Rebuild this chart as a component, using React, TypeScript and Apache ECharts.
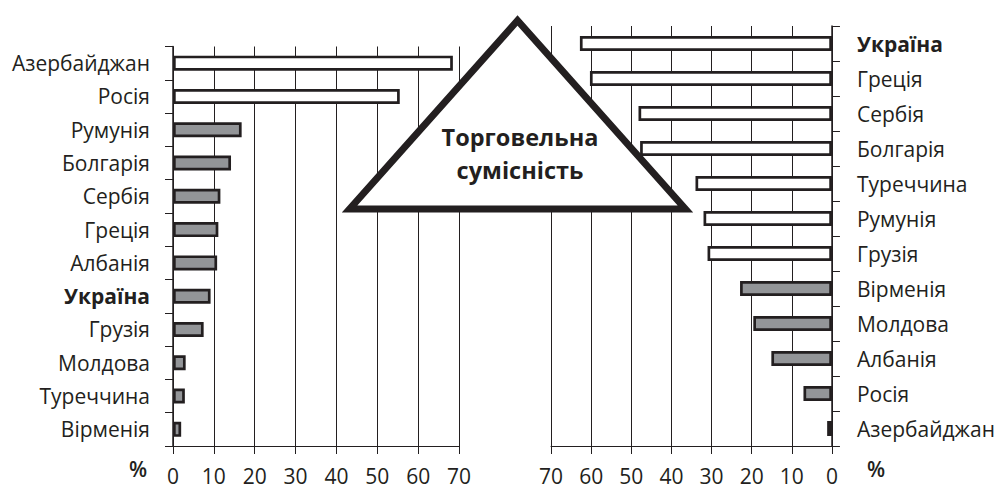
import React, { useEffect, useRef } from "react";
import * as echarts from "echarts";

const leftCountries = ["Азербайджан", "Росія", "Румунія", "Болгарія", "Сербія", "Греція", "Албанія", "Україна", "Грузія", "Молдова", "Туреччина", "Вірменія"];
const leftValues = [68.5, 55.5, 16.8, 14.2, 11.6, 11.1, 10.8, 9.2, 7.5, 3.1, 2.9, 2.0];
const leftHigh = [true, true, false, false, false, false, false, false, false, false, false, false];

const rightCountries = ["Україна", "Греція", "Сербія", "Болгарія", "Туреччина", "Румунія", "Грузія", "Вірменія", "Молдова", "Албанія", "Росія", "Азербайджан"];
const rightValues = [62.8, 60.3, 48.2, 47.8, 34.0, 32.0, 31.0, 22.9, 19.6, 15.1, 7.1, 1.2];
const rightHigh = [true, true, true, true, true, true, true, false, false, false, false, false];

const xTicks = { min: 0, max: 70, interval: 10 };
const highlightCountry = "Україна";
const titleLines = ["Торговельна", "сумісність"];
const unitLabel = "%";

const INK = "#231f20";
const GREY = "#939598";
const FONT = "'Open Sans', 'Noto Sans', sans-serif";

export default function App() {
  const ref = useRef<HTMLDivElement>(null);
  useEffect(() => {
    if (!ref.current) return;
    const chart = echarts.init(ref.current, null, { renderer: "svg" });
    const labelFmt = (v: string) => (v === highlightCountry ? `{b|${v}}` : v);
    const rich = { b: { fontWeight: "bold", fontSize: 21, fontFamily: FONT, color: INK } };
    const xAxisCommon = {
      type: "value",
      min: xTicks.min,
      max: xTicks.max,
      interval: xTicks.interval,
      axisLine: { show: true, lineStyle: { color: INK, width: 1 } },
      axisTick: { show: true, length: 8, lineStyle: { color: INK, width: 1 } },
      splitLine: { show: true, lineStyle: { color: INK, width: 1 } },
      axisLabel: { fontSize: 21, fontFamily: FONT, color: INK, margin: 19 },
    };
    const yAxisCommon = {
      type: "category",
      inverse: true,
      axisLine: { show: true, lineStyle: { color: INK, width: 1.5 } },
      axisTick: { show: true, length: 8, lineStyle: { color: INK, width: 1 } },
      splitLine: { show: false },
      axisLabel: { fontSize: 21, fontFamily: FONT, color: INK, formatter: labelFmt, rich },
    };
    const barStyle = { borderColor: INK, borderWidth: 2.7 };
    chart.setOption({
      animation: false,
      backgroundColor: "#ffffff",
      grid: [
        { left: 173, top: 46.5, width: 286, height: 401 },
        { left: 551, top: 26, width: 281, height: 420 },
      ],
      xAxis: [
        { ...xAxisCommon, gridIndex: 0 },
        { ...xAxisCommon, gridIndex: 1, inverse: true },
      ],
      yAxis: [
        { ...yAxisCommon, gridIndex: 0, data: leftCountries, axisLabel: { ...yAxisCommon.axisLabel, margin: 23 } },
        { ...yAxisCommon, gridIndex: 1, position: "right", data: rightCountries, axisLabel: { ...yAxisCommon.axisLabel, margin: 25 } },
      ],
      series: [
        {
          type: "bar",
          xAxisIndex: 0,
          yAxisIndex: 0,
          barWidth: 15,
          data: leftValues.map((v, i) => ({ value: v, itemStyle: { ...barStyle, color: leftHigh[i] ? "#ffffff" : GREY } })),
        },
        {
          type: "bar",
          xAxisIndex: 1,
          yAxisIndex: 1,
          barWidth: 15,
          data: rightValues.map((v, i) => ({ value: v, itemStyle: { ...barStyle, color: rightHigh[i] ? "#ffffff" : GREY } })),
        },
      ],
      graphic: [
        {
          type: "polygon",
          z: 100,
          shape: { points: [[517.5, 20.5], [349.6, 209], [685.4, 209]] },
          style: { fill: "#ffffff", stroke: INK, lineWidth: 7, lineJoin: "miter" },
        },
        {
          type: "text",
          z: 101,
          x: 520,
          y: 137,
          style: { text: titleLines[0], fill: INK, font: `bold 23.5px ${FONT}`, textAlign: "center", textVerticalAlign: "middle" },
        },
        {
          type: "text",
          z: 101,
          x: 520,
          y: 170,
          style: { text: titleLines[1], fill: INK, font: `bold 23.5px ${FONT}`, textAlign: "center", textVerticalAlign: "middle" },
        },
        {
          type: "text",
          x: 138,
          y: 469,
          style: { text: unitLabel, fill: INK, font: `600 21px ${FONT}`, textAlign: "center", textVerticalAlign: "middle" },
        },
        {
          type: "text",
          x: 876,
          y: 469,
          style: { text: unitLabel, fill: INK, font: `600 21px ${FONT}`, textAlign: "center", textVerticalAlign: "middle" },
        },
      ],
    });
    return () => chart.dispose();
  }, []);
  return <div ref={ref} style={{ position: "fixed", left: 0, top: 0, width: 998, height: 486 }} />;
}
